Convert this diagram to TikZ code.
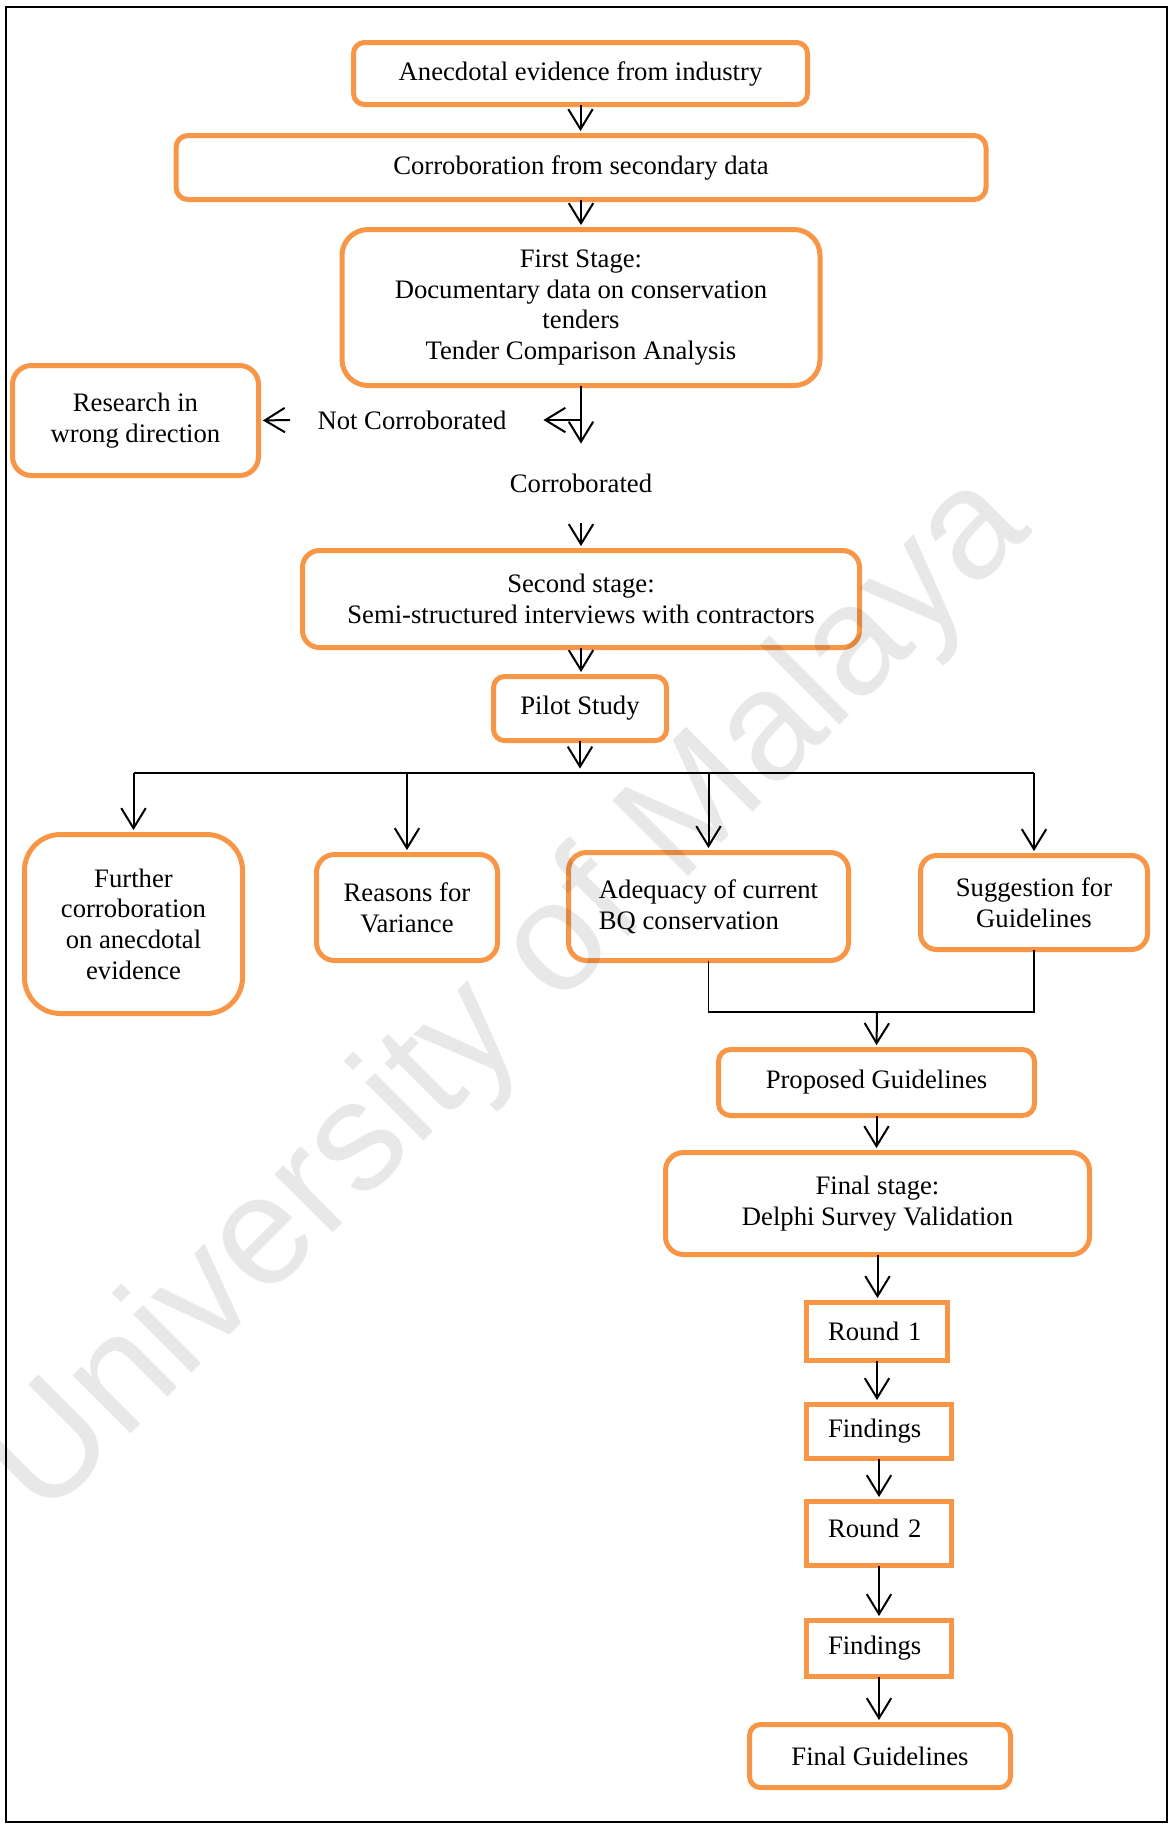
\documentclass[tikz,border=0pt]{standalone}
\usepackage{fontspec}
\setmainfont{Liberation Serif}
\newfontfamily\wmfont{Liberation Sans}
\usetikzlibrary{arrows.meta}
\definecolor{boxorange}{HTML}{F79646}
\newdimen\pxu \pxu=0.45pt
\begin{document}
\begin{tikzpicture}[x=0.45pt,y=-0.45pt,
  every node/.style={font=\fontsize{12pt}{13.8pt}\selectfont, inner sep=0pt, outer sep=0pt},
  box/.style={draw=boxorange, line width=2.25pt, align=center},
  sz/.style 2 args={minimum width=#1*\pxu, minimum height=#2*\pxu},
  rc/.style={rounded corners=#1*\pxu},
  roundbox/.style={box, align=left, text width=#1*\pxu},
  link/.style={line width=0.85pt},
  arr/.style={line width=0.9pt, -{Straight Barb[length=9pt,width=11pt]}, shorten >=2pt}]

\useasboundingbox (0,0) rectangle (1171,1825);
\draw[line width=1.2pt] (6,7) rectangle (1167,1822);

% stages of the study
\node[box,rc=11,sz={454}{62}] (anec) at (580.5,73.5) {Anecdotal evidence from industry};
\node[box,rc=12,sz={810}{64}] (sec) at (581,167.5) {Corroboration from secondary data};
\node[box,rc=26,sz={478}{156}] (first) at (581,307.5) {First Stage:\\Documentary data on conservation\\tenders\\Tender Comparison Analysis};
\node[box,rc=19,sz={246}{110}] (wrong) at (135.5,420.5) {Research in\\wrong direction};
\node (notc) at (412,420) {Not Corroborated};
\node (corr) at (581,483) {Corroborated};
\node[box,rc=17,sz={557}{97}] (second) at (581,599) {Second stage:\\Semi-structured interviews with contractors};
\node[box,rc=11,sz={173}{64}] (pilot) at (580,708.5) {Pilot Study};

% outcomes of the interviews
\node[box,rc=36,sz={218}{179}] (further) at (133.5,924) {Further\\corroboration\\on anecdotal\\evidence};
\node[box,rc=18,sz={181}{106}] (reasons) at (407,907.5) {Reasons for\\Variance};
\node[box,rc=18,sz={280}{108},align=left] (adeq) at (708.5,906.5) {Adequacy of current\\BQ conservation};
\node[box,rc=16,sz={227}{94}] (sugg) at (1034,902.5) {Suggestion for\\Guidelines};

% validation
\node[box,rc=12,sz={316}{66}] (prop) at (876.5,1082.5) {Proposed Guidelines};
\node[box,rc=18,sz={424}{102}] (final) at (877.5,1203.5) {Final stage:\\Delphi Survey Validation};
\node[roundbox=98,sz={141}{58}] (r1) at (877,1331.5) {Round 1};
\node[roundbox=102,sz={145}{54}] (f1) at (879,1431.5) {Findings};
\node[roundbox=102,sz={145}{64},text depth=4.5pt] (r2) at (879,1533.5) {Round 2};
\node[roundbox=102,sz={145}{56}] (f2) at (879,1648.5) {Findings};
\node[box,rc=11,sz={261}{63}] (fg) at (880,1756) {Final Guidelines};

% connectors
\draw[arr] (anec.south) -- (anec.south |- sec.north);
\draw[arr] (sec.south) -- (sec.south |- first.north);
\coordinate (ncfork) at (first.south |- notc);
\coordinate (ncend) at (539,420);
\coordinate (nctail) at (290,420);
\coordinate (corrtip) at (581,448);
\coordinate (secondtail) at (581,523);
\draw[arr] (first.south) -- (corrtip);
\draw[arr] (ncfork) -- (ncend);
\draw[arr] (nctail) -- (wrong.east);
\draw[arr] (secondtail) -- (second.north);
\draw[arr] (second.south) -- (second.south |- pilot.north);

\coordinate (bar) at (580,773);
\draw[arr] (pilot.south) -- (bar);
\draw[link] (further.north |- bar) -- (sugg.north |- bar);
\foreach \n in {further,reasons,adeq,sugg}
  \draw[arr] (\n.north |- bar) -- (\n.north);

\coordinate (join) at (877,1012);
\draw[link] (adeq.south) |- (sugg.south |- join) -- (sugg.south);
\draw[arr] (join) -- (prop.north);
\draw[arr] (prop.south) -- (prop.south |- final.north);
\draw[arr] (final.south) -- (final.south |- r1.north);
\draw[arr] (r1.south) -- (r1.south |- f1.north);
\draw[arr] (f1.south) -- (f1.south |- r2.north);
\draw[arr] (r2.south) -- (r2.south |- f2.north);
\draw[arr] (f2.south) -- (f2.south |- fg.north);

% watermark
\node[font=\wmfont\fontsize{70pt}{84pt}\selectfont, text=black, text opacity=0.09,
      rotate=45, anchor=base] (wm) at (539,1026) {University of Malaya};
\end{tikzpicture}
\end{document}
